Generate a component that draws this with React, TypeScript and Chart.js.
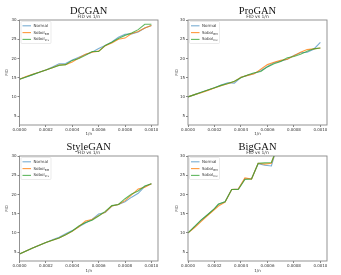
import { useEffect, useRef } from "react";
import { Chart, registerables } from "chart.js";
Chart.register(...registerables);

const seriesNames = ["Normal", "Sobol", "Sobol"];
const seriesSubs = ["", "BM", "Inv"];
const seriesColors = ["rgba(31,119,180,0.6)", "rgba(255,127,14,0.8)", "rgba(44,160,44,0.75)"];
const xTickValues = [0, 0.0002, 0.0004, 0.0006, 0.0008, 0.001];
const yTickValues = [5, 10, 15, 20, 25, 30];
const panelTitles = ["DCGAN", "ProGAN", "StyleGAN", "BigGAN"];
const subtitleText = "FID vs 1/n";
const xAxisLabel = "1/n";
const yAxisLabel = "FID";

const invN = [0, 0.00005, 0.0001, 0.00015, 0.0002, 0.00025, 0.0003, 0.00035, 0.0004, 0.00045, 0.0005,
  0.00055, 0.0006, 0.00065, 0.0007, 0.00075, 0.0008, 0.00085, 0.0009, 0.00095, 0.001];

const dcganNormal = [14.6, 15.2, 15.8, 16.4, 17.0, 17.8, 18.6, 18.7, 19.6, 20.3, 21.0, 21.6, 22.6, 23.4, 24.3, 25.5, 26.3, 26.4, 26.9, 27.9, 28.6];
const dcganSobolBM = [14.6, 15.3, 15.9, 16.4, 17.0, 17.6, 18.3, 18.4, 19.1, 20.1, 21.1, 21.6, 21.9, 23.3, 24.0, 25.0, 25.3, 26.5, 27.0, 27.9, 28.6];
const dcganSobolInv = [14.6, 15.2, 15.8, 16.4, 17.0, 17.6, 18.2, 18.4, 19.5, 20.0, 20.8, 21.8, 21.8, 23.4, 24.2, 25.2, 26.0, 26.6, 27.5, 28.9, 28.9];

const proganNormal = [10.0, 10.6, 11.2, 11.8, 12.4, 13.1, 13.7, 13.6, 15.1, 15.6, 16.1, 16.8, 17.9, 18.9, 19.3, 19.8, 20.8, 21.5, 21.6, 22.4, 24.2];
const proganSobolBM = [10.0, 10.6, 11.1, 11.7, 12.3, 12.9, 13.4, 14.0, 15.1, 15.6, 16.0, 17.2, 18.4, 19.0, 19.5, 19.8, 20.7, 21.6, 22.3, 22.5, 22.7];
const proganSobolInv = [10.0, 10.6, 11.2, 11.8, 12.4, 13.0, 13.5, 14.1, 15.0, 15.7, 16.3, 16.6, 17.8, 18.6, 19.2, 20.2, 20.5, 21.1, 21.9, 22.5, 22.7];

const styleganNormal = [4.5, 5.3, 6.1, 6.8, 7.5, 8.2, 8.9, 9.8, 10.6, 11.6, 12.6, 13.5, 14.9, 15.3, 17.0, 17.4, 18.1, 19.3, 20.3, 22.1, 22.8];
const styleganSobolBM = [4.5, 5.3, 6.1, 6.8, 7.5, 8.1, 8.7, 9.5, 10.4, 11.6, 13.1, 13.5, 14.5, 15.4, 17.0, 17.4, 18.4, 19.9, 21.4, 21.9, 22.8];
const styleganSobolInv = [4.5, 5.3, 6.1, 6.8, 7.5, 8.1, 8.7, 9.5, 10.5, 11.8, 12.7, 13.3, 14.4, 15.6, 17.1, 17.4, 18.9, 20.1, 20.9, 22.2, 22.8];

const bigganInvN = [0, 0.00005, 0.0001, 0.00015, 0.0002, 0.00023, 0.00028, 0.00033, 0.00038, 0.00043, 0.00048, 0.00053, 0.00058, 0.00063, 0.00066];
const bigganNormal = [10.0, 11.6, 13.3, 14.8, 16.3, 17.4, 18.1, 21.3, 21.4, 24.1, 24.1, 28.0, 27.6, 27.4, 31.0];
const bigganSobolBM = [10.0, 11.4, 13.0, 14.6, 16.1, 17.0, 18.0, 21.3, 21.4, 24.3, 24.0, 28.1, 27.9, 28.1, 31.0];
const bigganSobolInv = [10.0, 11.7, 13.4, 14.8, 16.3, 17.5, 18.1, 21.3, 21.3, 23.9, 24.0, 28.1, 28.2, 28.3, 31.0];

const panelX = [invN, invN, invN, bigganInvN];
const panelSeries = [
  [dcganNormal, dcganSobolBM, dcganSobolInv],
  [proganNormal, proganSobolBM, proganSobolInv],
  [styleganNormal, styleganSobolBM, styleganSobolInv],
  [bigganNormal, bigganSobolBM, bigganSobolInv],
];

const W = 170;
const H = 137;
const panelLayout = [
  { left: 0, top: 0, l: 19.5, t: 20, r: 158, b: 125, fidX: 7.3 },
  { left: 170, top: 0, l: 18, t: 20, r: 157, b: 125, fidX: 6.7 },
  { left: 0, top: 137, l: 19.5, t: 19, r: 158, b: 124, fidX: 7.3 },
  { left: 170, top: 137, l: 18, t: 19, r: 157, b: 124, fidX: 6.7 },
];

const tickFont = { family: "DejaVu Sans", size: 4, lineHeight: 1 };
const textColor = "#333";

const decorPlugin = {
  id: "decor",
  afterDatasetsDraw(chart: any, _args: any, opts: any) {
    const ctx = chart.ctx;
    const ca = chart.chartArea;
    ctx.save();
    ctx.strokeStyle = "#888";
    ctx.lineWidth = 0.9;
    ctx.strokeRect(ca.left, ca.top, ca.right - ca.left, ca.bottom - ca.top);
    // legend
    const bx = ca.left + 1.5, by = ca.top + 1.5, bw = 30, bh = 22;
    ctx.beginPath();
    (ctx as any).roundRect(bx, by, bw, bh, 1);
    ctx.fillStyle = "rgba(255,255,255,0.85)";
    ctx.fill();
    ctx.strokeStyle = "#ddd";
    ctx.lineWidth = 0.6;
    ctx.stroke();
    for (let i = 0; i < seriesNames.length; i++) {
      const cy = by + 4.3 + i * 6.8;
      ctx.strokeStyle = seriesColors[i];
      ctx.lineWidth = 1.1;
      ctx.beginPath();
      ctx.moveTo(bx + 1.5, cy);
      ctx.lineTo(bx + 10, cy);
      ctx.stroke();
      ctx.fillStyle = textColor;
      ctx.textBaseline = "middle";
      ctx.textAlign = "left";
      ctx.font = "4px 'DejaVu Sans'";
      ctx.fillText(seriesNames[i], bx + 12.5, cy);
      if (seriesSubs[i]) {
        const w = ctx.measureText(seriesNames[i]).width;
        ctx.font = "2.8px 'DejaVu Sans'";
        ctx.fillText(seriesSubs[i], bx + 12.5 + w + 0.2, cy + 1.2);
      }
    }
    // titles
    const cx = (ca.left + ca.right) / 2;
    ctx.fillStyle = "#111";
    ctx.textAlign = "center";
    ctx.textBaseline = "alphabetic";
    ctx.font = "10.5px 'Liberation Serif'";
    ctx.fillText(opts.title, cx, ca.top - 6);
    ctx.fillStyle = textColor;
    ctx.font = "4.5px 'DejaVu Sans'";
    ctx.textBaseline = "middle";
    ctx.fillText(subtitleText, cx, ca.top - 2.8);
    ctx.restore();
  },
};

function Panel({ idx }: { idx: number }) {
  const ref = useRef<HTMLCanvasElement>(null);
  useEffect(() => {
    const p = panelLayout[idx];
    const xs = panelX[idx];
    const chart = new Chart(ref.current as HTMLCanvasElement, {
      type: "line",
      data: {
        datasets: panelSeries[idx].map((s, i) => ({
          label: seriesNames[i] + seriesSubs[i],
          data: xs.map((xv, j) => ({ x: xv, y: s[j] })),
          borderColor: seriesColors[i],
          borderWidth: 1.1,
          pointRadius: 0,
          tension: 0,
          fill: false,
          order: 2 - i,
        })),
      },
      options: {
        animation: false,
        responsive: false,
        devicePixelRatio: 1,
        layout: { padding: { left: 0, top: p.t, right: W - p.r, bottom: 0 } },
        plugins: {
          legend: { display: false },
          tooltip: { enabled: false },
          decor: { title: panelTitles[idx] },
        } as any,
        scales: {
          x: {
            type: "linear",
            min: 0,
            max: 0.00105,
            afterBuildTicks: (s: any) => {
              s.ticks = xTickValues.map((v) => ({ value: v }));
            },
            afterFit: (s: any) => {
              s.height = H - p.b;
            },
            ticks: {
              autoSkip: false,
              maxRotation: 0,
              font: tickFont,
              color: textColor,
              padding: 0.5,
              callback: (v: any) => Number(v).toFixed(4),
            },
            grid: { drawOnChartArea: false, tickLength: 2, color: "#666", lineWidth: 0.8 },
            border: { display: false },
            title: { display: true, text: xAxisLabel, font: tickFont, color: textColor, padding: { top: 0, bottom: 1 } },
          },
          y: {
            type: "linear",
            min: 2.7,
            max: 30,
            afterBuildTicks: (s: any) => {
              s.ticks = yTickValues.map((v) => ({ value: v }));
            },
            afterFit: (s: any) => {
              s.width = p.l;
            },
            ticks: { font: tickFont, color: textColor, padding: 1 },
            grid: { drawOnChartArea: false, tickLength: 2, color: "#666", lineWidth: 0.8 },
            border: { display: false },
            title: { display: true, text: yAxisLabel, font: tickFont, color: textColor, padding: { top: p.fidX - 2, bottom: 0 } },
          },
        },
      },
      plugins: [decorPlugin as any],
    });
    return () => chart.destroy();
  }, [idx]);
  const p = panelLayout[idx];
  return (
    <canvas
      ref={ref}
      width={W}
      height={H}
      style={{ position: "absolute", left: p.left, top: p.top, width: W, height: H }}
    />
  );
}

export default function App() {
  return (
    <div style={{ position: "absolute", left: 0, top: 0, width: 341, height: 275, background: "#fff" }}>
      {[0, 1, 2, 3].map((i) => (
        <Panel key={i} idx={i} />
      ))}
    </div>
  );
}
